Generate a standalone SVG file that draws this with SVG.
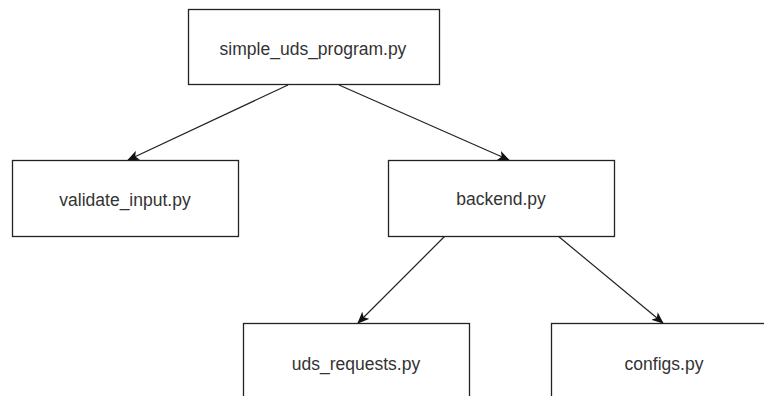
<svg xmlns="http://www.w3.org/2000/svg" width="764" height="396" viewBox="0 0 764 396">
<style>
.box{fill:#fff;stroke:#222;stroke-width:1.3}
.lbl{font-family:"Liberation Sans",Arial,sans-serif;font-size:17.5px;fill:#333;text-anchor:middle}
.edge{fill:none;stroke:#222;stroke-width:1.2}
</style>
<defs>
<marker id="arr" viewBox="0 0 12 10" refX="11" refY="5" markerWidth="12" markerHeight="10" markerUnits="userSpaceOnUse" orient="auto">
<path d="M0,0 L12,5 L0,10 L3,5 Z" fill="#111"/>
</marker>
</defs>
<rect width="764" height="396" fill="#fff"/>
<g id="connectors">
<path class="edge" d="M288,85 L128,160" marker-end="url(#arr)"/>
<path class="edge" d="M339,85 L509,160" marker-end="url(#arr)"/>
<path class="edge" d="M445,236 L358,323" marker-end="url(#arr)"/>
<path class="edge" d="M558,236 L663,323" marker-end="url(#arr)"/>
</g>
<g id="simple_uds_program">
<rect class="box" x="188.5" y="9.5" width="251" height="75"/>
<text class="lbl" x="313" y="55">simple_uds_program.py</text>
</g>
<g id="validate_input">
<rect class="box" x="12.5" y="160.5" width="226" height="76"/>
<text class="lbl" x="125" y="206">validate_input.py</text>
</g>
<g id="backend">
<rect class="box" x="388.5" y="160.5" width="226" height="76"/>
<text class="lbl" x="501" y="205">backend.py</text>
</g>
<g id="uds_requests">
<rect class="box" x="243.5" y="323.5" width="226" height="76"/>
<text class="lbl" x="356" y="370">uds_requests.py</text>
</g>
<g id="configs">
<rect class="box" x="551.5" y="323.5" width="226" height="76"/>
<text class="lbl" x="664" y="370">configs.py</text>
</g>
</svg>
